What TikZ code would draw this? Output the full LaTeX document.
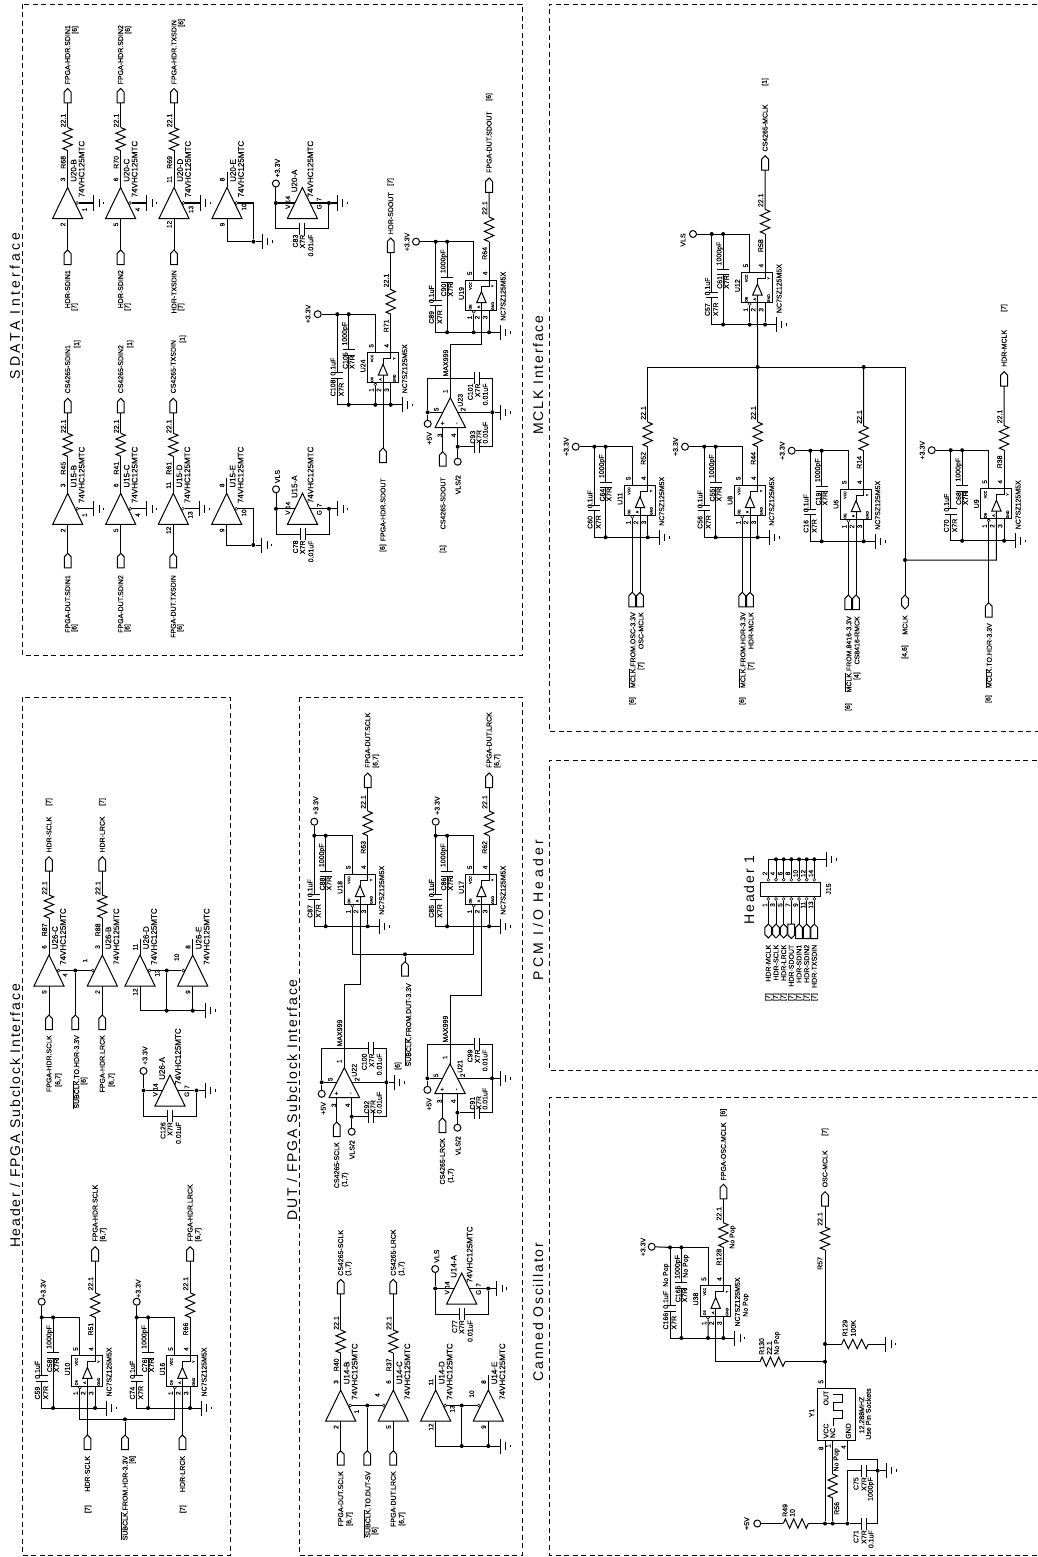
\documentclass[tikz,border=0pt]{standalone}
\usepackage{fontspec}
\setmainfont[FakeBold=0.2]{Liberation Sans}
\newfontfamily\titlefont[LetterSpace=13]{Liberation Sans}
\newfontfamily\widefont[LetterSpace=24]{Liberation Sans}
\tikzset{
  wire/.style={line width=1pt},
  panel/.style={line width=.7pt,dash pattern=on 5pt off 3.5pt},
  dotj/.style={circle,fill=black,inner sep=0pt,minimum size=4pt},
  railc/.style={circle,draw,fill=white,inner sep=0pt,minimum size=7pt,line width=1pt},
  bub/.style={circle,draw,fill=white,inner sep=0pt,minimum size=3pt,line width=.5pt},
  txt/.style={rotate=90,anchor=west,inner sep=0pt,font=\fontsize{7}{7}\selectfont},
  txtt/.style={txt,anchor=east},
  txtc/.style={txt,anchor=center},
  txtb/.style={txt,font=\fontsize{8}{8}\selectfont},
  pinno/.style={txt,anchor=center,font=\fontsize{6.5}{6.5}\selectfont},
  tiny/.style={txt,anchor=center,font=\fontsize{3.6}{3.6}\selectfont},
  ttl/.style={rotate=90,inner sep=0pt,font=\titlefont\fontsize{14}{14}\selectfont},
  ttw/.style={ttl,font=\widefont\fontsize{14}{14}\selectfont},
}
\newcounter{labno}
\newcommand\lab[4][txt]{\stepcounter{labno}\node[#1] (lab\arabic{labno}) at (#2,#3) {#4};}
\newcommand\ovl[1]{\vbox{\hrule height .5pt\kern .7pt\hbox{#1}}}
\newcommand\gnd[3]{\coordinate (#1) at (#2,#3);
  \draw[wire] (#1) ++(0,-7.5) -- ++(0,15) (#1) ++(5.5,-3.7) -- ++(0,7.4) (#1) ++(10,-1.3) -- ++(0,2.6);}
\newcommand\res[4]{\pgfmathsetmacro\st{(#4-(#3))/12}
  \coordinate (#1t) at (#2,#3); \coordinate (#1b) at (#2,#4);
  \draw[wire] (#1t) -- ++(4.7,\st) -- ++(-9.4,2*\st) -- ++(9.4,2*\st) -- ++(-9.4,2*\st) -- ++(9.4,2*\st) -- ++(-9.4,2*\st) -- (#1b);}
\newcommand\resh[4]{\pgfmathsetmacro\st{(#4-(#3))/12}
  \coordinate (#1l) at (#3,#2); \coordinate (#1r) at (#4,#2);
  \draw[wire] (#1l) -- ++(\st,-4.7) -- ++(2*\st,9.4) -- ++(2*\st,-9.4) -- ++(2*\st,9.4) -- ++(2*\st,-9.4) -- ++(2*\st,9.4) -- (#1r);}
\newcommand\port[3]{\coordinate (#1) at (#2,#3); \coordinate (#1b) at (#2,#3+14.5);
  \draw[wire] (#1) -- ++(3.4,3.5) -- ++(0,11) -- ++(-6.8,0) -- ++(0,-11) -- cycle;}
\newcommand\portd[3]{\coordinate (#1) at (#2,#3); \coordinate (#1b) at (#2,#3+14.5);
  \draw[wire] (#1) ++(-3.4,0) -- ++(6.8,0) -- ++(0,11) -- ++(-3.4,3.5) -- ++(-3.4,-3.5) -- cycle;}
\newcommand\porth[3]{\coordinate (#1) at (#2,#3); \coordinate (#1b) at (#2,#3+14);
  \draw[wire] (#1) -- ++(3.4,3.5) -- ++(0,7) -- ++(-3.4,3.5) -- ++(-3.4,-3.5) -- ++(0,-7) -- cycle;}
\newcommand\capv[3]{\draw[wire] (#1-6,#2) -- ++(12,0) (#1-6,#3) -- ++(12,0);}
\newcommand\caph[3]{\draw[wire] (#1,#3-6) -- ++(0,12) (#2,#3-6) -- ++(0,12);}
% triangle of a 74VHC125 gate
\newcommand\buf[7][1]{\coordinate (#2t) at (#3,#4); \coordinate (#2i) at (#3,#4+31);
  \draw[wire] (#3,#4) -- (#3+15,#4+31) -- (#3-15,#4+31) -- cycle;
  \node[bub] (#2b) at (#3+#1*9.5,#4+15.5) {};
  \lab[txtb]{#3+6}{#4-5.5}{#5}
  \lab[txtb]{#3+14}{#4+10}{74VHC125MTC}
  \lab[pinno]{#3-4.7}{#4-8}{#6}
  \lab[pinno]{#3-4.7}{#4+37}{#7}}
% resistor and two ports of a gate
\newcommand\chan[6]{\res{#1R}{#2}{#3-60}{#3-37}
  \port{#1P}{#2}{#4} \port{#1Q}{#2}{#5}
  \draw[wire] (#1Pb) -- (#1Rt) (#1Rb) -- (#1t) (#1i) -- (#1Q);
  \lab{#2-4.4}{#3-18.5}{#6}
  \lab{#2-4.4}{#3-60}{22.1}}
% gate A with power pins
\newcommand\bufa[6]{\begin{scope}[shift={(#2,#3)}]
  \draw[wire] (0,0) -- (15,31) -- (-15,31) -- cycle;
  \node[railc] (#1V) at (-26.5,-4) {};
  \node[dotj] (#1L) at (-26.5,15.5) {};
  \node[dotj] (#1H) at (26.5,15.5) {};
  \gnd{#1G}{35}{15.5}
  \coordinate (#1c1) at (-2.5,41); \coordinate (#1c2) at (2.5,41);
  \coordinate (#1s1) at (-7.5,15.5); \coordinate (#1s2) at (7.5,15.5);
  \draw[wire] (#1V) -- (#1L) -- (#1s1) (#1s2) -- (#1H) -- (#1G);
  \draw[wire] (#1L) |- (#1c1) (#1c2) -| (#1H);
  \caph{-2.5}{2.5}{41}
  \lab[txtb]{-8}{5}{#4}
  \lab[txtb]{8}{10}{74VHC125MTC}
  \lab[pinno]{-14.6}{12}{14}
  \lab[pinno]{-14.6}{19.3}{V}
  \lab[pinno]{16.8}{12}{7}
  \lab[pinno]{16.8}{19.3}{G}
  \lab[txtt]{-7}{47}{#5}
  \lab[txtt]{0}{47}{X7R}
  \lab[txtt]{8.4}{47}{0.01uF}
  \lab{-25}{-10}{#6}
\end{scope}}
% NC7SZ125 driver with its two capacitors and series resistor
\newcommand\drv[6]{\begin{scope}[shift={(#2,#3)}]
  \draw[wire] (0,0) rectangle (30.7,30.3);
  \draw[wire] (15.7,11.7) -- (20.4,22.7) -- (11,22.7) -- cycle;
  \draw[wire] (15.7,11.7) -- (15.7,6) -- (23.4,6) -- (23.4,-38.3);
  \res{#1R}{23.4}{-63}{-38.3}
  \coordinate (#1v) at (-30,-38.3);
  \coordinate (#1p2) at (15.7,22.7);
  \coordinate (#1p1) at (8,33.3);
  \coordinate (#1r1) at (8,52.3);
  \node[bub] (#1b1) at (8,31.8) {};
  \node[dotj] (#1d2) at (-18.6,-38.3) {};
  \node[dotj] (#1d1) at (-30,-38.3) {};
  \node[dotj] (#1d3) at (-18.6,52.3) {};
  \node[dotj] (#1d4) at (23.4,52.3) {};
  \gnd{#1G}{34.7}{52.3}
  \draw[wire] (#1v) -- (8,-38.3) -- (8,0) (8,30.3) -- (#1b1);
  \draw[wire] (-30,-38.3) -- (-30,20) (-30,25.5) -- (-30,52.3) -- (#1G);
  \draw[wire] (-18.6,-38.3) -- (-18.6,-3) (-18.6,2.5) -- (-18.6,52.3);
  \draw[wire] (23.4,30.3) -- (#1d4);
  \capv{-30}{20}{25.5}
  \capv{-18.6}{-3}{2.5}
  \lab{-34.3}{44}{#4}
  \lab{-26}{44}{X7R}
  \lab{-34.3}{23.3}{0.1uF}
  \lab{-22}{16.7}{#5}
  \lab{-15.3}{16.7}{X7R}
  \lab{-22}{-6.7}{1000pF}
  \lab{-4.3}{20}{#1}
  \lab{37.4}{41}{NC7SZ125M5X}
  \lab{19}{-20}{#6}
  \lab{19}{-65}{22.1}
  \lab[pinno]{4}{-6.7}{5}
  \lab[pinno]{19.4}{-6.7}{4}
  \lab[pinno]{4}{37.5}{1}
  \lab[pinno]{11.5}{37.5}{2}
  \lab[pinno]{19.4}{37.5}{3}
  \lab[tiny]{4.7}{6}{VCC}
  \lab[tiny]{4.7}{27}{OE}
  \lab[tiny]{13}{27}{A}
  \lab[tiny]{27}{6}{Y}
  \lab[tiny]{27}{26}{GND}
\end{scope}}
% MAX999 comparator
\newcommand\opamp[6]{\begin{scope}[shift={(#2,#3)}]
  \draw[wire] (0,19.4) -- (15.3,49.4) -- (-15.3,49.4) -- cycle;
  \coordinate (#1t) at (0,19.4);
  \coordinate (#1i) at (-7.6,49.4);
  \node[dotj] (#1L) at (-22.6,34) {};
  \node[dotj] (#1H) at (42,34) {};
  \node[dotj] (#1M) at (7.4,68.4) {};
  \node[railc] (#1V) at (-22.6,45.5) {};
  \node[railc] (#1W) at (7.4,83.4) {};
  \gnd{#1G}{50}{34}
  \draw[wire] (#1V) -- (#1L) -- (-7.4,34) (7.4,34) -- (#1H) -- (#1G);
  \draw[wire] (#1L) -- (-22.6,0) -- (24,0) (29,0) -- (42,0) -- (42,68.4) -- (29,68.4) (24,68.4) -- (#1M);
  \draw[wire] (7.4,49.4) -- (#1M) -- (#1W);
  \caph{24}{29}{0}
  \caph{24}{29}{68.4}
  \lab{-4.6}{-1.6}{MAX999}
  \lab[txtc]{10}{22}{#4}
  \lab[pinno]{-5}{13}{1}
  \lab[pinno]{-14}{31}{5}
  \lab[pinno]{12.7}{31}{2}
  \lab[pinno]{-10.5}{57}{3}
  \lab[pinno]{3.3}{57}{4}
  \lab[pinno]{-7.6}{45}{+}
  \lab[pinno]{7.4}{45}{-}
  \lab[txtt]{20}{5}{#5}
  \lab[txtt]{27.4}{5}{X7R}
  \lab[txtt]{35}{5}{0.01uF}
  \lab{22.4}{65.5}{#6}
  \lab{28.7}{65.5}{X7R}
  \lab{35}{65.5}{0.01uF}
  \lab[txtc]{-21}{60}{+5V}
\end{scope}}
\begin{document}
\begin{tikzpicture}[x=1pt,y=-1pt]
  \useasboundingbox (0,0) rectangle (1038,1557);
  % panels
  \draw[panel] (22,4) rectangle (522,655);
  \draw[panel] (22,697) rectangle (230.5,1555);
  \draw[panel] (299,697) rectangle (522,1555);
  \draw[panel] (1045,4) -- (549,4) -- (549,731) -- (1045,731);
  \draw[panel] (1045,760) -- (549,760) -- (549,1070) -- (1045,1070);
  \draw[panel] (1045,1097) -- (549,1097) -- (549,1555) -- (1045,1555);
  \node[ttw] (tSdata) at (15,306) {SDATA Interface};
  \node[ttl] (tHdr) at (15,1116) {Header / FPGA Subclock Interface};
  \node[ttl] (tDut) at (292,1100) {DUT / FPGA Subclock Interface};
  \node[ttl] (tMclk) at (538,375) {MCLK Interface};
  \node[ttw] (tPcm) at (538,910) {PCM I/O Header};
  \node[ttl] (tOsc) at (538,1312) {Canned Oscillator};

  % SDATA, U20
  \foreach \un/\xa/\pt/\pi/\pe/\rn/\sg/\bt in {B/67.6/3/2/1/R68/SDIN1/34,C/120.6/6/5/4/R70/SDIN2/34,D/174/11/12/13/R69/TXSDIN/27}{
    \buf{U20\un}{\xa}{187.5}{U20-\un}{\pt}{\pi}
    \chan{U20\un}{\xa}{187.5}{88.5}{250}{\rn}
    \gnd{U20\un G}{\xa+26}{203}
    \draw[wire] (U20\un b) -- (U20\un G);
    \lab[pinno]{\xa+17}{209.5}{\pe}
    \lab{\xa}{84.5}{FPGA-HDR.\sg}
    \lab{\xa+7.5}{\bt}{[6]}
    \lab[txtt]{\xa}{270}{HDR-\sg}
    \lab{\xa+7}{311}{[7]}
  }
  \buf{U20E}{227}{187.5}{U20-E}{8}{9}
  \coordinate (U20Es) at (227,172.5);
  \node[dotj] (U20Ed) at (253.4,241.6) {};
  \gnd{U20EG}{262}{241.6}
  \draw[wire] (U20Et) -- (U20Es) (U20Ei) |- (U20Ed) -- (U20EG) (U20Eb) -| (U20Ed);
  \lab[pinno]{244}{207}{10}
  \bufa{U20A}{302.4}{187.5}{U20-A}{C83}{+3.3V}

  % SDATA, U15
  \foreach \un/\xa/\pt/\pi/\pe/\rn/\sg/\bt in {B/67.7/3/2/1/R45/SDIN1/348,C/120.7/6/5/4/R41/SDIN2/348,D/173.3/11/12/13/R61/TXSDIN/343}{
    \buf{U15\un}{\xa}{493.3}{U15-\un}{\pt}{\pi}
    \chan{U15\un}{\xa}{493.3}{398.3}{553.3}{\rn}
    \gnd{U15\un G}{\xa+26}{508.8}
    \draw[wire] (U15\un b) -- (U15\un G);
    \lab[pinno]{\xa+17}{515}{\pe}
    \lab{\xa}{393.5}{CS4265-\sg}
    \lab{\xa+9.5}{\bt}{[1]}
    \lab[txtt]{\xa}{575}{FPGA-DUT.\sg}
    \lab{\xa+7}{632}{[6]}
  }
  \buf{U15E}{226.7}{493.3}{U15-E}{8}{9}
  \coordinate (U15Es) at (226.7,478.3);
  \node[dotj] (U15Ed) at (253.3,545) {};
  \gnd{U15EG}{261.7}{545}
  \draw[wire] (U15Et) -- (U15Es) (U15Ei) |- (U15Ed) -- (U15EG) (U15Eb) -| (U15Ed);
  \lab[pinno]{244}{513}{10}
  \bufa{U15A}{302.5}{493.3}{U15-A}{C78}{VLS}

  % SDATA, outputs
  \drv{U24}{367.3}{352.5}{C108}{C105}{R71}
  \node[railc] (U24V) at (317.7,314.2) {};
  \draw[wire] (U24V) -- (U24v);
  \node[dotj] (U24e) at (375.3,404.8) {};
  \draw[wire] (U24b1) -- (U24e);
  \lab[txtc]{308}{314}{+3.3V}
  \port{U24P}{390.7}{238}
  \draw[wire] (U24Pb) -- (U24Rt);
  \lab{390.7}{234.5}{HDR-SDOUT}
  \lab{390.7}{186}{[7]}
  \port{U24Q}{383}{448}
  \draw[wire] (U24p2) -- (U24Q);
  \lab[txtt]{383}{478}{FPGA-HDR.SDOUT}
  \lab[txtt]{383}{544}{[6]}
  \drv{U19}{465.7}{280}{C89}{C90}{R64}
  \node[railc] (U19V) at (416,241.7) {};
  \draw[wire] (U19V) -- (U19v);
  \node[dotj] (U19e) at (473.7,332.3) {};
  \draw[wire] (U19b1) -- (U19e);
  \lab[txtc]{407}{242}{+3.3V}
  \port{U19P}{489.1}{178}
  \draw[wire] (U19Pb) -- (U19Rt);
  \lab{489.1}{173}{FPGA-DUT.SDOUT}
  \lab{489.1}{101}{[6]}
  \opamp{U23}{450.3}{378.3}{U23}{C101}{C93}
  \coordinate (U23k) at (450.3,344.3);
  \draw[wire] (U23t) -- (U23k) -| (U19p2);
  \port{U23P}{442.7}{451.7}
  \draw[wire] (U23i) -- (U23P);
  \lab[txtt]{443}{477}{CS4265-SDOUT}
  \lab[txtt]{443}{545}{[1]}
  \lab[txtt]{458}{475}{VLS/2}

  % MCLK
  \drv{U12}{741.7}{272.3}{C57}{C61}{R58}
  \node[railc] (U12V) at (693,234) {};
  \draw[wire] (U12V) -- (U12v);
  \node[dotj] (U12e) at (749.7,324.6) {};
  \draw[wire] (U12b1) -- (U12e);
  \lab[txtc]{683}{240}{VLS}
  \port{U12P}{765.1}{155.7}
  \draw[wire] (U12Pb) -- (U12Rt);
  \lab{765.1}{151.7}{CS4265-MCLK}
  \lab{765.1}{86}{[1]}
  \foreach \ux/\xb/\yb/\cp/\cq/\rn/\cx in {U11/624.3/485/C60/C64/R52/575.7,U8/734.3/485/C56/C55/R44/685,U6/840.3/489/C16/C19/R14/791.7,U9/980.7/488.5/C70/C68/R38/931.7}{
    \drv{\ux}{\xb}{\yb}{\cp}{\cq}{\rn}
    \node[railc] (\ux V) at (\cx,\yb-38.3) {};
    \draw[wire] (\ux V) -- (\ux v);
    \lab[txtc]{\cx-9.5}{\yb-38.3}{+3.3V}
  }
  \foreach \ux/\xb/\sa/\sb in {U11/624.3/OSC/OSC-MCLK,U8/734.3/HDR/HDR-MCLK}{
    \port{\ux Pa}{\xb+8}{592.3}
    \port{\ux Pc}{\xb+15.7}{592.3}
    \draw[wire] (\ux p1) -- (\ux Pa) (\ux p2) -- (\ux Pc);
    \lab[txtt]{\xb+8}{612}{\ovl{MCLK}.FROM.\sa-3.3V}
    \lab[txtt]{\xb+8}{697}{[6]}
    \lab[txtt]{\xb+16.7}{612}{\sb}
    \lab[txtt]{\xb+16.7}{662}{[7]}
  }
  \port{U6Pa}{848.3}{595}
  \port{U6Pc}{856}{595}
  \draw[wire] (U6p1) -- (U6Pa) (U6p2) -- (U6Pc);
  \lab[txtt]{848.3}{616}{\ovl{MCLK}.FROM.8416-3.3V}
  \lab[txtt]{848.3}{703}{[6]}
  \lab[txtt]{857}{616}{CS8416-RMCK}
  \lab[txtt]{857}{672}{[4]}
  \port{U9Pa}{988.7}{602.7}
  \draw[wire] (U9p1) -- (U9Pa);
  \lab[txtt]{988.7}{623}{\ovl{MCLK}.TO.HDR-3.3V}
  \lab[txtt]{988.7}{695}{[6]}
  \port{U9Pc}{1004.1}{371.7}
  \draw[wire] (U9Pcb) -- (U9Rt);
  \lab{1004.1}{367}{HDR-MCLK}
  \lab{1004.1}{312}{[7]}
  \node[dotj] (J1) at (757.6,367) {};
  \node[dotj] (J2) at (863.7,367) {};
  \node[dotj] (J4) at (905,560) {};
  \porth{MCLKP}{905}{595}
  \coordinate (J0) at (647.7,367);
  \coordinate (J3) at (905,367);
  \draw[wire] (U11Rt) -- (J0) -- (J3) -- (MCLKP);
  \draw[wire] (U8Rt) -- (J1) -- (U12p2) (U6Rt) -- (J2) (U9p2) |- (J4);
  \lab[txtt]{905}{615}{MCLK}
  \lab[txtt]{905}{645}{[4,6]}

  % PCM header
  \draw[wire] (760.7,882.7) rectangle (820.7,896);
  \foreach \xb/\sg [count=\c] in {768.3/MCLK,776/SCLK,783.7/LRCK,791.3/SDOUT,799/SDIN1,806.7/SDIN2,814.3/TXSDIN}{
    \pgfmathtruncatemacro\nn{2*\c}
    \pgfmathtruncatemacro\mm{2*\c-1}
    \node[bub] (Jt\c) at (\xb,879.8) {};
    \node[bub] (Jb\c) at (\xb,898.9) {};
    \coordinate (Jr\c) at (\xb,859.3);
    \draw[wire] (Jt\c) -- (Jr\c);
    \ifnum\c>1 \node[dotj] (Jd\c) at (Jr\c) {}; \fi
    \ifnum\c<4 \porth{Jp\c}{\xb}{924} \fi
    \ifnum\c=4 \portd{Jp\c}{\xb}{924} \fi
    \ifnum\c>4 \port{Jp\c}{\xb}{924} \fi
    \draw[wire] (Jb\c) -- (Jp\c);
    \lab[pinno]{\xb-3.5}{873.5}{\nn}
    \lab[pinno]{\xb-3.5}{905}{\mm}
    \lab[txtt]{\xb}{944.5}{HDR-\sg}
    \lab[txtt]{\xb}{993}{[7]}
  }
  \gnd{J15G}{826}{859.3}
  \draw[wire] (Jr1) -- (J15G);
  \lab[txtc]{828.5}{889}{J15}
  \node[ttl] (tHdrOne) at (749,890) {Header 1};

  % Header / FPGA subclock
  \buf{U26C}{49}{955}{U26-C}{6}{5}
  \chan{U26C}{49}{955}{856.7}{1015}{R87}
  \buf[-1]{U26B}{102.3}{955}{U26-B}{3}{2}
  \chan{U26B}{102.3}{955}{856.7}{1015}{R88}
  \node[dotj] (U26j) at (75.3,970.5) {};
  \port{U26P}{75.3}{1015}
  \draw[wire] (U26Cb) -- (U26Bb) (U26j) -- (U26P);
  \lab[pinno]{65}{975}{4}
  \lab[pinno]{85}{960.7}{1}
  \lab{49}{852.7}{HDR-SCLK}
  \lab{49}{806}{[7]}
  \lab{102.3}{852.7}{HDR-LRCK}
  \lab{102.3}{806}{[7]}
  \lab[txtt]{49}{1035}{FPGA-HDR.SCLK}
  \lab{58.3}{1087}{[6,7]}
  \lab[txtt]{76}{1035}{\ovl{SUBCLK}.TO.HDR-3.3V}
  \lab{84}{1085}{[6]}
  \lab[txtt]{102.3}{1035}{FPGA-HDR.LRCK}
  \lab{111.7}{1087}{[6,7]}
  \buf{U26D}{140}{955}{U26-D}{11}{12}
  \buf[-1]{U26E}{192.7}{955}{U26-E}{8}{9}
  \node[dotj] (U26k) at (166.7,970.5) {};
  \node[dotj] (U26m) at (166.7,1010.7) {};
  \node[dotj] (U26n) at (192.7,1010.7) {};
  \gnd{U26G}{205}{1010.7}
  \coordinate (U26Ds) at (140,939);
  \coordinate (U26Es) at (192.7,939);
  \draw[wire] (U26Dt) -- (U26Ds) (U26Et) -- (U26Es);
  \draw[wire] (U26Db) -- (U26Eb) (U26k) -- (U26m) (U26Ei) -- (U26n) (U26Di) |- (U26G);
  \lab[pinno]{157.3}{973}{13}
  \lab[pinno]{176.7}{957.3}{10}
  \bufa{U26A}{170}{1075}{U26-A}{C126}{+3.3V}
  \drv{U10}{71.7}{1355.7}{C59}{C58}{R51}
  \drv{U16}{166.7}{1355.7}{C74}{C76}{R66}
  \foreach \ux/\xb/\sg in {U10/41.7/SCLK,U16/136.7/LRCK}{
    \node[railc] (\ux V) at (\xb,1301.7) {};
    \draw[wire] (\ux V) -- (\ux v);
    \lab{\xb+1.5}{1298}{+3.3V}
    \port{\ux P}{\xb+53.4}{1246.7}
    \draw[wire] (\ux Pb) -- (\ux Rt);
    \lab{\xb+53.4}{1241.7}{FPGA-HDR.\sg}
    \lab{\xb+61.5}{1241.7}{[6,7]}
    \port{\ux Q}{\xb+45.7}{1435}
    \draw[wire] (\ux p2) -- (\ux Q);
    \lab[txtt]{\xb+45.7}{1455.7}{HDR-\sg}
    \lab[txtt]{\xb+46.3}{1505}{[7]}
  }
  \coordinate (Hb1) at (79.7,1419.3);
  \coordinate (Hb2) at (174.7,1419.3);
  \node[dotj] (Hbj) at (125,1419.3) {};
  \port{HbP}{125}{1435}
  \draw[wire] (U10p1) -- (Hb1) -- (Hb2) -- (U16p1) (Hbj) -- (HbP);
  \lab[txtt]{124.5}{1455.7}{\ovl{SUBCLK}.FROM.HDR-3.3V}
  \lab[txtt]{132.5}{1455.7}{[6]}

  % DUT / FPGA subclock
  \drv{U18}{344.3}{874}{C87}{C88}{R63}
  \drv{U17}{465.7}{874}{C85}{C86}{R62}
  \foreach \ux/\xb/\sg in {U18/314.3/SCLK,U17/435.7/LRCK}{
    \node[railc] (\ux V) at (\xb,821.7) {};
    \draw[wire] (\ux V) -- (\ux v);
    \lab{\xb+1.5}{815}{+3.3V}
    \port{\ux P}{\xb+53.4}{773}
    \draw[wire] (\ux Pb) -- (\ux Rt);
    \lab{\xb+53.4}{768}{FPGA-DUT.\sg}
    \lab{\xb+61.5}{768}{[6,7]}
  }
  \coordinate (Db1) at (352.3,954.3);
  \coordinate (Db2) at (473.7,954.3);
  \node[dotj] (Dbj) at (405,954.3) {};
  \port{DbP}{405}{961.7}
  \draw[wire] (U18p1) -- (Db1) -- (Db2) -- (U17p1) (Dbj) -- (DbP);
  \lab[txtt]{408}{983}{\ovl{SUBCLK}.FROM.DUT-3.3V}
  \lab{398}{1070}{[6]}
  \opamp{U22}{344.3}{1048.3}{U22}{C100}{C92}
  \coordinate (U22k) at (344.3,984.3);
  \draw[wire] (U22t) -- (U22k) -| (U18p2);
  \port{U22P}{336.7}{1122}
  \draw[wire] (U22i) -- (U22P);
  \lab[txtt]{336.7}{1142}{CS4265-SCLK}
  \lab{345}{1187}{(1,7)}
  \lab[txtt]{352}{1140}{VLS/2}
  \opamp{U21}{450}{1044.3}{U21}{C99}{C91}
  \coordinate (U21k) at (450,995);
  \draw[wire] (U21t) -- (U21k) -| (U17p2);
  \port{U21P}{442.4}{1118}
  \draw[wire] (U21i) -- (U21P);
  \lab[txtt]{442.4}{1138}{CS4265-LRCK}
  \lab{451}{1183}{(1,7)}
  \lab[txtt]{458}{1136}{VLS/2}
  \buf{U14B}{340.7}{1390}{U14-B}{3}{2}
  \chan{U14B}{340.7}{1390}{1279.3}{1450.7}{R40}
  \buf[-1]{U14C}{393.3}{1390}{U14-C}{6}{5}
  \chan{U14C}{393.3}{1390}{1279.3}{1450.7}{R37}
  \node[dotj] (U14j) at (367.3,1405.5) {};
  \port{U14P}{367.3}{1450.7}
  \draw[wire] (U14Bb) -- (U14Cb) (U14j) -- (U14P);
  \lab[pinno]{356.7}{1411.7}{1}
  \lab[pinno]{377.3}{1395}{4}
  \lab{340.7}{1276}{CS4265-SCLK}
  \lab{348.5}{1276}{(1,7)}
  \lab{393.3}{1276}{CS4265-LRCK}
  \lab{401.7}{1276}{(1,7)}
  \lab[txtt]{340.7}{1471}{FPGA-DUT.SCLK}
  \lab{349.5}{1526}{[6,7]}
  \lab[txtt]{367.3}{1471}{\ovl{SUBCLK}.TO.DUT-5V}
  \lab{375}{1535}{[6]}
  \lab[txtt]{393.3}{1471}{FPGA-DUT.LRCK}
  \lab{402}{1526}{[6,7]}
  \buf{U14D}{435.7}{1390}{U14-D}{11}{12}
  \buf[-1]{U14E}{488.3}{1390}{U14-E}{8}{9}
  \node[dotj] (U14k) at (461.7,1405.5) {};
  \node[dotj] (U14m) at (461.7,1446) {};
  \node[dotj] (U14n) at (488.3,1446) {};
  \gnd{U14G}{500}{1446}
  \coordinate (U14Ds) at (435.7,1375);
  \coordinate (U14Es) at (488.3,1375);
  \draw[wire] (U14Dt) -- (U14Ds) (U14Et) -- (U14Es);
  \draw[wire] (U14Db) -- (U14Eb) (U14k) -- (U14m) (U14Ei) -- (U14n) (U14Di) |- (U14G);
  \lab[pinno]{452.3}{1409}{13}
  \lab[pinno]{471.7}{1394}{10}
  \bufa{U14A}{461.7}{1273}{U14-A}{C77}{VLS}

  % Canned oscillator
  \drv{U38}{700}{1285.7}{C166}{C165}{R128}
  \node[railc] (U38V) at (651.7,1246.7) {};
  \node[dotj] (U38e) at (708,1338) {};
  \draw[wire] (U38V) -- (U38v) (U38b1) -- (U38e);
  \lab[txtc]{643}{1247}{+3.3V}
  \lab{666.3}{1287}{No Pop}
  \lab{686}{1278}{No Pop}
  \lab{732.7}{1249}{No Pop}
  \lab{746}{1317}{No Pop}
  \port{U38P}{723.4}{1184.3}
  \draw[wire] (U38Pb) -- (U38Rt);
  \lab{723.4}{1180.7}{FPGA-OSC.MCLK}
  \lab{723.4}{1116.7}{[6]}
  \draw[wire] (817.3,1388.3) rectangle (855,1440);
  \coordinate (Y1o) at (825,1388.3);
  \coordinate (Y1v) at (825,1440);
  \coordinate (Y1n) at (832.7,1440);
  \coordinate (Y1g) at (847.3,1440);
  \draw[wire] (833,1426) -- (833,1418) -- (842,1418) -- (842,1410) -- (833,1410) -- (833,1402) -- (842,1402) -- (842,1394) -- (833,1394);
  \lab[txtc]{826}{1398}{OUT}
  \lab[txtc]{826}{1431}{VCC}
  \lab[txtc]{832.7}{1433}{NC}
  \lab[txtc]{848.3}{1431}{GND}
  \lab[pinno]{821}{1381.7}{5}
  \lab[pinno]{821}{1448.3}{8}
  \lab[pinno]{828.3}{1446}{1}
  \lab[pinno]{843.5}{1447}{4}
  \lab[txtc]{811.7}{1413}{Y1}
  \lab[txtc]{861.7}{1415}{12.288MHZ}
  \lab[txtc]{868.3}{1414}{Use Pin Sockets}
  \port{Y1P}{825}{1191.7}
  \res{R57}{825}{1227}{1250}
  \node[dotj] (Y1a) at (825,1344) {};
  \node[dotj] (Y1b) at (825,1361.7) {};
  \draw[wire] (Y1Pb) -- (R57t) (R57b) -- (Y1o);
  \lab{825}{1187.5}{OSC-MCLK}
  \lab{825}{1136}{[7]}
  \lab{820}{1226}{22.1}
  \lab{820}{1270}{R57}
  \resh{R129}{1344}{841.7}{868.3}
  \gnd{R129G}{885.7}{1344}
  \draw[wire] (Y1a) -- (R129l) (R129r) -- (R129G);
  \lab{845}{1336.7}{R129}
  \lab{853.3}{1336.7}{100K}
  \resh{R130}{1361.7}{760}{785}
  \draw[wire] (U38p2) |- (R130l) (R130r) -- (Y1b);
  \lab{761.7}{1355}{R130}
  \lab{769.3}{1355}{22.1}
  \lab{777.3}{1355}{No Pop}
  \node[dotj] (Y1c) at (825,1523.5) {};
  \node[dotj] (Y1d) at (832.7,1523.5) {};
  \node[dotj] (Y1e) at (847.3,1523.5) {};
  \node[dotj] (Y1f) at (877.7,1470.7) {};
  \node[railc] (Y1V) at (757.3,1523.5) {};
  \resh{R49}{1523.5}{783.3}{808.3}
  \res{R56}{832.7}{1474}{1498}
  \gnd{Y1G}{886}{1470.7}
  \draw[wire] (Y1V) -- (R49l) (R49r) -- (Y1c) -- (Y1e) -- (861.7,1523.5) (866.7,1523.5) -- (877.7,1523.5) -- (Y1f) -- (Y1G);
  \draw[wire] (Y1v) -- (Y1c) (Y1n) -- (R56t) (R56b) -- (Y1d);
  \draw[wire] (Y1g) |- (877.7,1459.3) -- (Y1f) -- (866.7,1470.7) (861.7,1470.7) -| (Y1e);
  \caph{861.7}{866.7}{1470.7}
  \caph{861.7}{866.7}{1523.5}
  \lab[txtc]{746.7}{1523.5}{+5V}
  \lab{785}{1517}{R49}
  \lab{792.3}{1517}{10}
  \lab{836.7}{1515}{R56}
  \lab{836.7}{1471.7}{No Pop}
  \lab[txtt]{856}{1477}{C75}
  \lab[txtt]{864}{1477}{X7R}
  \lab[txtt]{871}{1477}{1000pF}
  \lab[txtt]{856}{1530}{C71}
  \lab[txtt]{864}{1530}{X7R}
  \lab[txtt]{871}{1530}{0.1uF}
\end{tikzpicture}
\end{document}
